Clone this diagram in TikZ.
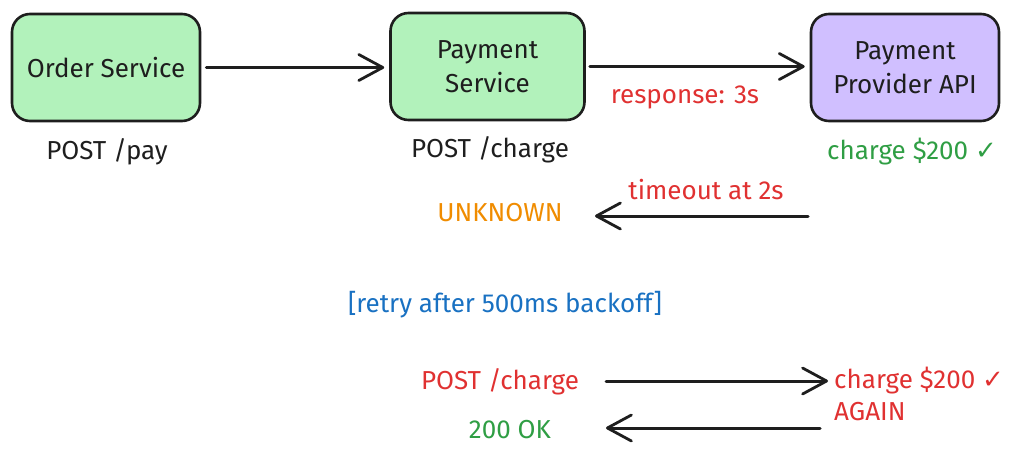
\documentclass[tikz,border=0pt]{standalone}
\usepackage{fontspec}
\setmainfont{Fira Sans}
\newfontfamily\symfont{DejaVu Sans}
\usetikzlibrary{arrows.meta}

\definecolor{ink}{HTML}{1E1E1E}
\definecolor{mint}{HTML}{B2F2BB}
\definecolor{lilac}{HTML}{D0BFFF}
\definecolor{alert}{HTML}{E03131}
\definecolor{okgreen}{HTML}{2F9E44}
\definecolor{warn}{HTML}{F08C00}
\definecolor{note}{HTML}{1971C2}

\newcommand{\tick}{{\symfont\char"2713}}

\tikzset{
  svc/.style={draw=ink, line width=2.6pt, rounded corners=18pt,
    minimum width=188pt, minimum height=107pt, align=center,
    font=\fontsize{26}{34}\selectfont, text=ink},
  lbl/.style={font=\fontsize{26}{32}\selectfont, text=ink, inner sep=0pt, align=left},
  flow/.style={draw=ink, line width=3pt, line cap=round,
    -{Straight Barb[length=24pt, width=26pt, line width=2.8pt, round]}},
}

\begin{document}
\begin{tikzpicture}[x=1pt, y=-1pt]
\useasboundingbox (0,0) rectangle (1023,461);

% services
\node[svc, fill=mint]  (order)    at (106,67.5)  {Order Service};
\node[svc, fill=mint, minimum width=194pt]  (payment)  at (487.5,66.5) {Payment\\Service};
\node[svc, fill=lilac] (provider) at (905,67.5)  {Payment\\Provider API};

% labels under the services
\node[lbl] (paylbl)    at (107,152) {POST /pay};
\node[lbl] (chargelbl) at (490,150) {POST /charge};
\node[lbl, text=okgreen] (charged) at (912,152) {charge \$200 \tick};

% first call
\draw[flow, shorten <=5pt, shorten >=5pt] (order.east) -- (order.east -| payment.west);
\draw[flow, shorten <=4pt, shorten >=5pt] (payment.east) -- (payment.east -| provider.west);
\node[lbl, text=alert] (resp) at (685,97) {response: 3s};

% timeout
\node[lbl, text=alert] (tout) at (706,190) {timeout at 2s};
\node[lbl, text=warn]  (unknown) at (500,213) {UNKNOWN};
\coordinate (toutA) at (808,216);
\coordinate (toutB) at (595,216);
\draw[flow] (toutA) -- (toutB);

% retry
\node[lbl, text=note] (retry) at (505,305) {[retry after 500ms backoff]};

\node[lbl, text=alert] (post2) at (500,382) {POST /charge};
\coordinate (reqA) at (606,381);
\coordinate (reqB) at (828,381);
\draw[flow] (reqA) -- (reqB);
\node[lbl, text=alert, anchor=west] (again) at (834,394) {charge \$200 \tick\\AGAIN};

\node[lbl, text=okgreen] (ok) at (510,430) {200 OK};
\coordinate (resA) at (820,428);
\coordinate (resB) at (606,428);
\draw[flow] (resA) -- (resB);
\end{tikzpicture}
\end{document}
